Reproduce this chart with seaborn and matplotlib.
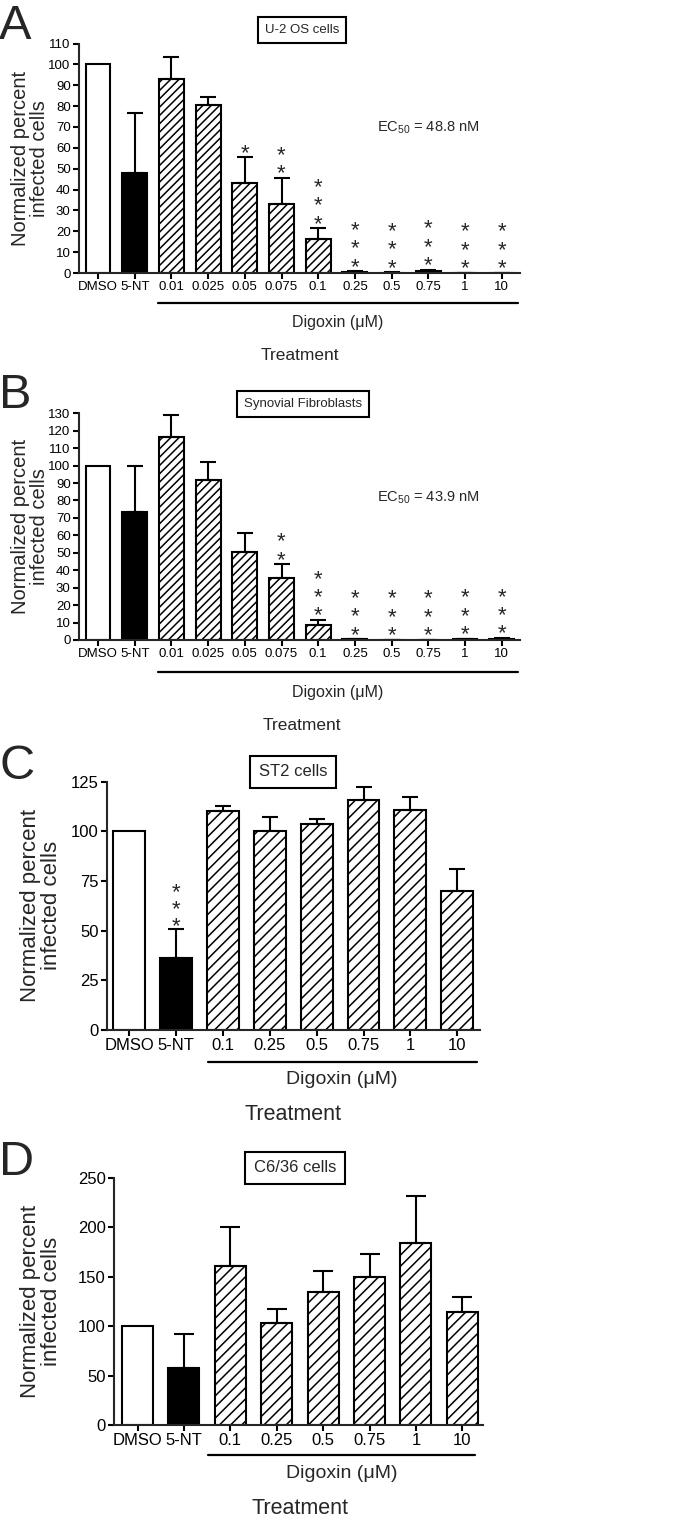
import numpy as np
import pandas as pd
import matplotlib
matplotlib.use("Agg")
import matplotlib.pyplot as plt
import seaborn as sns

# ---------------- data ----------------
cats_ab = ["DMSO", "5-NT", "0.01", "0.025", "0.05", "0.075", "0.1", "0.25", "0.5", "0.75", "1", "10"]
kinds_ab = ["open", "solid"] + ["hatch"] * 10

vals_a = [100, 48, 93, 80.5, 43, 33, 16.5, 0.5, 0.2, 0.8, 0.1, 0.1]
errs_a = [0, 28.5, 10.5, 4, 12.5, 12.5, 5, 0.3, 0.1, 0.7, 0, 0]
stars_a = [0, 0, 0, 0, 1, 2, 3, 3, 3, 3, 3, 3]

vals_b = [100, 73.5, 116.5, 92, 50.5, 35.5, 8.5, 0.3, 0.1, 0.1, 0.5, 0.8]
errs_b = [0, 26.5, 12.5, 10, 11, 8, 3, 0.1, 0, 0, 0.2, 0.3]
stars_b = [0, 0, 0, 0, 0, 2, 3, 3, 3, 3, 3, 3]

cats_cd = ["DMSO", "5-NT", "0.1", "0.25", "0.5", "0.75", "1", "10"]
kinds_cd = ["open", "solid"] + ["hatch"] * 6

vals_c = [100, 36, 110, 100, 103.5, 116, 111, 70]
errs_c = [0, 15, 3, 7, 2.5, 6.5, 6.5, 11]
stars_c = [0, 3, 0, 0, 0, 0, 0, 0]

vals_d = [100, 58, 161, 103, 134.5, 150, 183.5, 114.5]
errs_d = [0, 34, 39, 14, 21.5, 23, 47.5, 14.5]
stars_d = [0, 0, 0, 0, 0, 0, 0, 0]

titles = ["U-2 OS cells", "Synovial Fibroblasts", "ST2 cells", "C6/36 cells"]
letters = ["A", "B", "C", "D"]
ec50 = ["48.8", "43.9", None, None]

# ---------------- style ----------------
sns.set_style("ticks")
plt.rcParams["font.family"] = ["Liberation Sans", "DejaVu Sans"]
plt.rcParams["mathtext.fontset"] = "custom"
plt.rcParams["mathtext.rm"] = "Liberation Sans"
plt.rcParams["mathtext.default"] = "regular"
plt.rcParams["hatch.color"] = "black"
plt.rcParams["hatch.linewidth"] = 1.1

W, H = 680, 1518
fig = plt.figure(figsize=(W / 100, H / 100), dpi=100)

# layout in pixels (layout only, not data)
panels = [
    dict(cats=cats_ab, kinds=kinds_ab, vals=vals_a, errs=errs_a, stars=stars_a,
         left=79, right=520, y0=273, ytop=43.5, ymax=110, ystep=10,
         c0=98, sp=36.7, bw=0.68, hatch="////", xtick_fs=9.5, ytick_fs=9.5, lab_fs=14.5,
         ylab_x=30, br=(158, 518, 303), dig=(338, 322), trt=(300, 355), trt_fs=12.5, dig_fs=11.5,
         title=(302, 30), title_fs=9.5, letter=(15, 39), ec=(428, 128),
         star_off=11, star_sp=13.3, cap=6),
    dict(cats=cats_ab, kinds=kinds_ab, vals=vals_b, errs=errs_b, stars=stars_b,
         left=79, right=520, y0=640, ytop=413.3, ymax=130, ystep=10,
         c0=98, sp=36.7, bw=0.68, hatch="////", xtick_fs=9.5, ytick_fs=9.5, lab_fs=14.5,
         ylab_x=30, br=(158, 518, 672), dig=(338, 692), trt=(302, 725), trt_fs=12.5, dig_fs=11.5,
         title=(303, 404), title_fs=9.5, letter=(15, 408), ec=(428, 498),
         star_off=11, star_sp=13.3, cap=6),
    dict(cats=cats_cd, kinds=kinds_cd, vals=vals_c, errs=errs_c, stars=stars_c,
         left=107, right=480, y0=1030, ytop=781.7, ymax=125, ystep=25,
         c0=129, sp=46.9, bw=0.68, hatch="///", xtick_fs=12, ytick_fs=12, lab_fs=16,
         ylab_x=41, br=(208, 477, 1062), dig=(342, 1080), trt=(293, 1115), trt_fs=15.5, dig_fs=14,
         title=(293, 772), title_fs=12, letter=(17, 779), ec=None,
         star_off=9, star_sp=12, cap=6),
    dict(cats=cats_cd, kinds=kinds_cd, vals=vals_d, errs=errs_d, stars=stars_d,
         left=114, right=483, y0=1425, ytop=1177.7, ymax=250, ystep=50,
         c0=137.5, sp=46.4, bw=0.67, hatch="///", xtick_fs=12, ytick_fs=12, lab_fs=16,
         ylab_x=41, br=(208, 475, 1455), dig=(342, 1473), trt=(300, 1508), trt_fs=15.5, dig_fs=14,
         title=(295, 1168), title_fs=12, letter=(17, 1175), ec=None,
         star_off=9, star_sp=12, cap=7),
]

STAR_FS = 16
STAR_EM_PX = STAR_FS / 0.72

for i, p in enumerate(panels):
    ax = fig.add_axes([p["left"] / W, 1 - p["y0"] / H,
                       (p["right"] - p["left"]) / W, (p["y0"] - p["ytop"]) / H])
    df = pd.DataFrame({"treatment": p["cats"], "value": p["vals"]})
    sns.barplot(data=df, x="treatment", y="value", order=p["cats"], ax=ax,
                width=p["bw"], color="white", edgecolor="black", linewidth=1.5,
                errorbar=None, saturation=1)
    for patch, kind in zip(ax.patches, p["kinds"]):
        patch.set_edgecolor("black")
        patch.set_linewidth(1.5)
        if kind == "solid":
            patch.set_facecolor("black")
        elif kind == "hatch":
            patch.set_facecolor("white")
            patch.set_hatch(p["hatch"])
        else:
            patch.set_facecolor("white")

    n = len(p["cats"])
    xs = np.arange(n)
    vals = np.array(p["vals"], dtype=float)
    errs = np.array(p["errs"], dtype=float)
    mask = np.array([k != "open" for k in p["kinds"]])
    ax.errorbar(xs[mask], vals[mask], yerr=[np.zeros(mask.sum()), errs[mask]],
                fmt="none", ecolor="black", elinewidth=1.5, capsize=p["cap"],
                capthick=1.5, zorder=1)

    # significance stars: one stacked text per bar
    lsp = p["star_sp"] / (0.716 * STAR_EM_PX)
    for x, v, e, s in zip(xs, vals, errs, p["stars"]):
        if s == 0:
            continue
        top = v + e
        off_px = p["star_off"] - 0.79 * STAR_EM_PX
        ax.annotate("\n".join(["*"] * s), xy=(x, top), xytext=(0, off_px * 0.72),
                    textcoords="offset points", ha="center", va="bottom",
                    fontsize=STAR_FS, linespacing=lsp, annotation_clip=False)

    xl = ((p["left"] - p["c0"]) / p["sp"], (p["right"] - p["c0"]) / p["sp"])
    ax.set_xlim(*xl)
    ax.set_ylim(0, p["ymax"])
    ax.set_yticks(np.arange(0, p["ymax"] + 0.1, p["ystep"]))
    ax.set_xticks(xs)
    ax.set_xticklabels(p["cats"])
    sns.despine(ax=ax)
    for sp_ in ["left", "bottom"]:
        ax.spines[sp_].set_linewidth(1.5)
    ax.tick_params(axis="both", direction="out", length=4, width=1.5, pad=2, colors="black")
    ax.tick_params(axis="x", labelsize=p["xtick_fs"])
    ax.tick_params(axis="y", labelsize=p["ytick_fs"])
    ax.set_facecolor("none")

    ax.set_xlabel("")
    ax.set_ylabel("Normalized percent\ninfected cells", fontsize=p["lab_fs"],
                  va="center", linespacing=0.95)
    ax.yaxis.set_label_coords((p["ylab_x"] - p["left"]) / (p["right"] - p["left"]), 0.5)

    # bracket for Digoxin
    x1, x2, yb = p["br"]
    fig.add_artist(plt.Line2D([x1 / W, x2 / W], [1 - yb / H] * 2,
                              transform=fig.transFigure, color="black", lw=1.6))
    fig.text(p["dig"][0] / W, 1 - p["dig"][1] / H, "Digoxin (μM)",
             ha="center", va="center", fontsize=p["dig_fs"])
    fig.text(p["trt"][0] / W, 1 - p["trt"][1] / H, "Treatment",
             ha="center", va="center", fontsize=p["trt_fs"])

    # title box
    fig.text(p["title"][0] / W, 1 - p["title"][1] / H, titles[i],
             ha="center", va="center", fontsize=p["title_fs"],
             bbox=dict(boxstyle="square,pad=0.5", fc="white", ec="black", lw=1.5))

    # panel letter
    fig.text(p["letter"][0] / W, 1 - p["letter"][1] / H, letters[i],
             ha="center", va="baseline", fontsize=35)

    if ec50[i] is not None:
        fig.text(p["ec"][0] / W, 1 - p["ec"][1] / H,
                 "EC$_{50}$ = " + ec50[i] + " nM", ha="center", va="center", fontsize=10.5)

fig.savefig("out.png", dpi=100, facecolor="white")
